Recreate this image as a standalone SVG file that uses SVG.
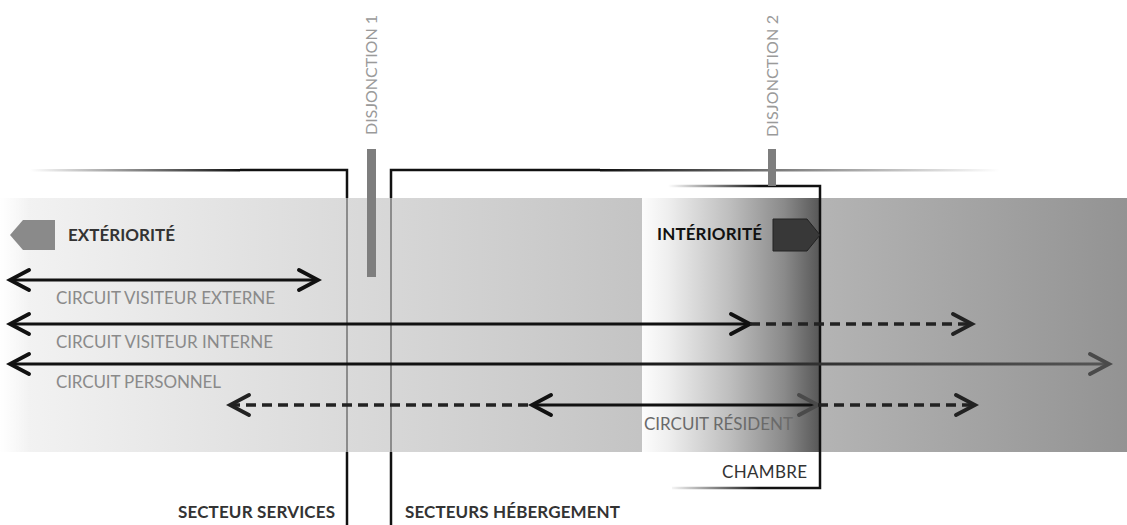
<svg xmlns="http://www.w3.org/2000/svg" width="1127" height="525" viewBox="0 0 1127 525">
<defs>
<style>
text{font-family:Lato,"Liberation Sans",sans-serif;font-size:17px}
.lbl{fill:#8a8a8a}
.bold{font-weight:bold;fill:#333}
.dis{fill:#9a9a9a;font-size:16px}
.ln{fill:none;stroke:#111;stroke-width:3}
.dash{fill:none;stroke:#222;stroke-width:3.4;stroke-dasharray:10 6}
.wall{fill:none;stroke:#111;stroke-width:2.5}
.wallin{fill:none;stroke:#8c8c8c;stroke-width:2}
</style>
<linearGradient id="gBand" x1="0" y1="0" x2="640" y2="0" gradientUnits="userSpaceOnUse">
<stop offset="0" stop-color="#f4f4f4"/><stop offset="0.5" stop-color="#dcdcdc"/><stop offset="1" stop-color="#c4c4c4"/>
</linearGradient>
<linearGradient id="gFade" x1="0" y1="0" x2="30" y2="0" gradientUnits="userSpaceOnUse">
<stop offset="0" stop-color="#fff" stop-opacity="1"/><stop offset="1" stop-color="#fff" stop-opacity="0"/>
</linearGradient>
<linearGradient id="gRight" x1="820" y1="0" x2="1127" y2="0" gradientUnits="userSpaceOnUse">
<stop offset="0" stop-color="#b4b4b4"/><stop offset="1" stop-color="#939393"/>
</linearGradient>
<linearGradient id="gCh" x1="642" y1="0" x2="820" y2="0" gradientUnits="userSpaceOnUse">
<stop offset="0" stop-color="#fdfdfd"/><stop offset="0.15" stop-color="#eeeeee"/><stop offset="0.5" stop-color="#bdbdbd"/><stop offset="0.8" stop-color="#8a8a8a"/><stop offset="1" stop-color="#575757"/>
</linearGradient>
<linearGradient id="gTopL" x1="30" y1="0" x2="240" y2="0" gradientUnits="userSpaceOnUse">
<stop offset="0" stop-color="#111" stop-opacity="0"/><stop offset="1" stop-color="#111" stop-opacity="1"/>
</linearGradient>
<linearGradient id="gTopR" x1="600" y1="0" x2="1000" y2="0" gradientUnits="userSpaceOnUse">
<stop offset="0" stop-color="#111" stop-opacity="1"/><stop offset="1" stop-color="#111" stop-opacity="0"/>
</linearGradient>
<linearGradient id="gCham" x1="668" y1="0" x2="760" y2="0" gradientUnits="userSpaceOnUse">
<stop offset="0" stop-color="#111" stop-opacity="0"/><stop offset="1" stop-color="#111" stop-opacity="1"/>
</linearGradient>
<linearGradient id="gPers" x1="10" y1="0" x2="1110" y2="0" gradientUnits="userSpaceOnUse">
<stop offset="0" stop-color="#111"/><stop offset="0.5" stop-color="#111"/><stop offset="1" stop-color="#555"/>
</linearGradient>
<marker id="arr" markerUnits="userSpaceOnUse" markerWidth="26" markerHeight="26" viewBox="0 0 26 26" refX="22" refY="13" orient="auto-start-reverse">
<path d="M3,3 L22,13 L3,23" fill="none" stroke="#111" stroke-width="3.8" stroke-linecap="round"/>
</marker>
<marker id="arrG" markerUnits="userSpaceOnUse" markerWidth="26" markerHeight="26" viewBox="0 0 26 26" refX="22" refY="13" orient="auto-start-reverse">
<path d="M3,3 L22,13 L3,23" fill="none" stroke="#4a4a4a" stroke-width="3.8" stroke-linecap="round"/>
</marker>
<marker id="arrD" markerUnits="userSpaceOnUse" markerWidth="26" markerHeight="26" viewBox="0 0 26 26" refX="22" refY="13" orient="auto-start-reverse">
<path d="M3,3 L22,13 L3,23" fill="none" stroke="#222" stroke-width="3.8" stroke-linecap="round"/>
</marker>
</defs>

<g id="band">
<rect x="0" y="198" width="822" height="254" fill="url(#gBand)"/>
<rect x="0" y="198" width="30" height="254" fill="url(#gFade)"/>
<rect x="820" y="198" width="307" height="254" fill="url(#gRight)"/>
</g>

<g id="chambre">
<rect x="642" y="198" width="178" height="254" fill="url(#gCh)"/>
<path d="M668,186 H820 V488 H672" fill="none" stroke="url(#gCham)" stroke-width="2.5"/>
<text x="722" y="478" textLength="85" style="fill:#333">CHAMBRE</text>
</g>

<g id="secteur-services">
<rect x="30" y="169" width="210" height="2.5" fill="url(#gTopL)"/>
<path class="wall" d="M240,170 H347 V198"/>
<path class="wallin" d="M347,198 V452"/>
<path class="wall" d="M347,452 V525"/>
<text class="bold" x="178" y="518" textLength="157">SECTEUR SERVICES</text>
</g>

<g id="secteurs-hebergement">
<path class="wall" d="M391,198 V170 H600"/>
<rect x="600" y="169" width="400" height="2.5" fill="url(#gTopR)"/>
<path class="wallin" d="M391,198 V452"/>
<path class="wall" d="M391,452 V525"/>
<text class="bold" x="405" y="518" textLength="215">SECTEURS HÉBERGEMENT</text>
</g>

<g id="disjonction1">
<rect x="367" y="149" width="9" height="128" fill="#7e7e7e"/>
<text class="dis" transform="translate(377,135) rotate(-90)" textLength="120">DISJONCTION 1</text>
</g>

<g id="disjonction2">
<rect x="768" y="149" width="8" height="37" fill="#7e7e7e"/>
<text class="dis" transform="translate(778,137) rotate(-90)" textLength="122">DISJONCTION 2</text>
</g>

<g id="exteriorite">
<polygon points="10,235 23,220 55,220 55,250 23,250" fill="#8a8a8a"/>
<text class="bold" x="68" y="241" textLength="107">EXTÉRIORITÉ</text>
</g>

<g id="interiorite">
<polygon points="773,219 807,219 820,235 807,251 773,251" fill="#383838" stroke="#222" stroke-width="1"/>
<text class="bold" x="657" y="240" textLength="105" style="fill:#111">INTÉRIORITÉ</text>
</g>

<g id="connectors">
<path class="ln" d="M10,280 H318" marker-start="url(#arr)" marker-end="url(#arr)"/>
<path class="ln" d="M10,324 H750" marker-start="url(#arr)" marker-end="url(#arr)"/>
<path class="dash" d="M750,324 H972" marker-end="url(#arrD)"/>
<path d="M10,364 H1109" fill="none" stroke="url(#gPers)" stroke-width="3" marker-start="url(#arr)" marker-end="url(#arrG)"/>
<path class="dash" d="M230,405 H532" marker-start="url(#arrD)"/>
<path class="ln" d="M532,405 H818" marker-start="url(#arr)" marker-end="url(#arrG)"/>
<path class="dash" d="M818,405 H975" marker-end="url(#arrD)"/>
</g>

<g id="labels">
<text class="lbl" x="56" y="304" textLength="219">CIRCUIT VISITEUR EXTERNE</text>
<text class="lbl" x="56" y="348" textLength="217">CIRCUIT VISITEUR INTERNE</text>
<text class="lbl" x="56" y="388" textLength="165">CIRCUIT PERSONNEL</text>
<text x="644" y="430" textLength="149" style="fill:#6a6a6a">CIRCUIT RÉSIDENT</text>
</g>
</svg>
